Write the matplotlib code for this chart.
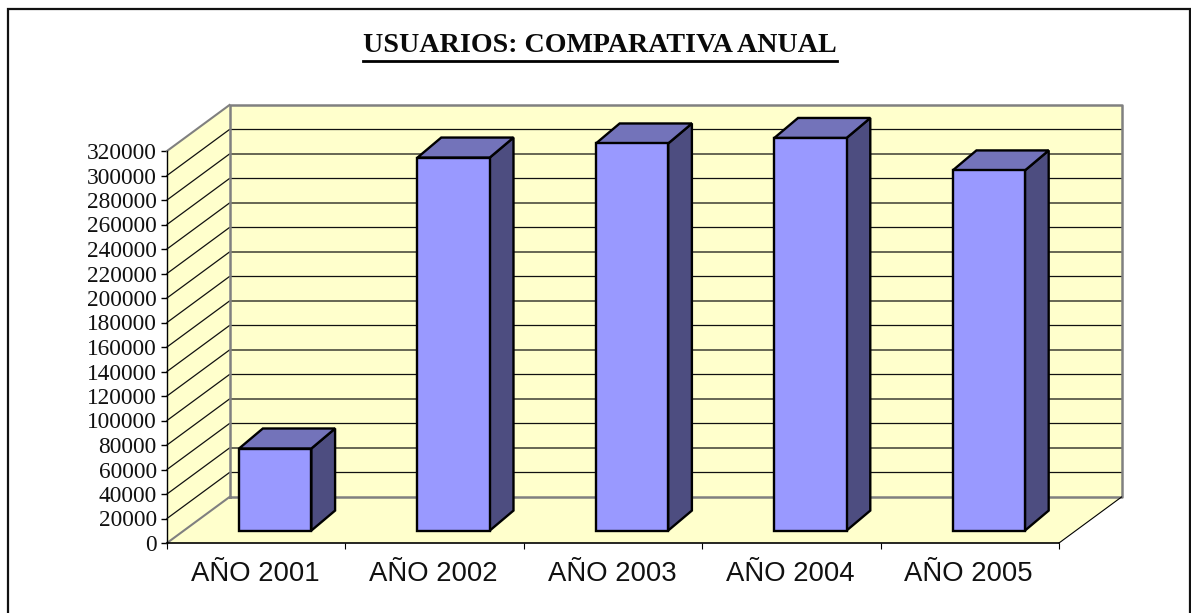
import matplotlib
matplotlib.use("Agg")
import matplotlib.pyplot as plt
from matplotlib.patches import Polygon, Rectangle
from matplotlib.lines import Line2D

years = ["AÑO 2001", "AÑO 2002", "AÑO 2003", "AÑO 2004", "AÑO 2005"]
usuarios = [67000, 304500, 316000, 320500, 294000]
y_ticks = list(range(0, 320001, 20000))
title = "USUARIOS: COMPARATIVA ANUAL"

W, H = 1191, 613
Y_MAX = 320000
WALL = "#FFFFCC"
GREY = "#808080"
FRONT = "#9999FF"
TOP = "#7373BA"
SIDE = "#4D4D80"

fig = plt.figure(figsize=(W / 100, H / 100), dpi=100)

# frame around the whole chart, bottom edge is cut off by the image
fig.add_artist(Rectangle((7.5 / W, -0.02), (1190 - 7.5) / W, 1.02 - 9 / H, transform=fig.transFigure,
                         fill=False, edgecolor="#111111", linewidth=1.6))

# axes = front plane of the 3d box
ax = fig.add_axes([167 / W, 1 - 543 / H, (1059 - 167) / W, (543 - 151) / H])
ax.set_xlim(0, len(years))
ax.set_ylim(0, Y_MAX)
ax.patch.set_visible(False)
for s in ax.spines.values():
    s.set_visible(False)

# depth offset in data units
dep_x = 62.5 / 892 * len(years)
dep_y = 46 / 392 * Y_MAX


def poly(pts, **kw):
    ax.add_patch(Polygon(pts, closed=True, clip_on=False, **kw))


def line(xs, ys, **kw):
    ax.add_line(Line2D(xs, ys, clip_on=False, **kw))


n = len(years)
# walls
poly([(dep_x, dep_y), (n + dep_x, dep_y), (n + dep_x, Y_MAX + dep_y), (dep_x, Y_MAX + dep_y)],
     facecolor=WALL, edgecolor="none", zorder=1)
poly([(0, 0), (dep_x, dep_y), (dep_x, Y_MAX + dep_y), (0, Y_MAX)], facecolor=WALL, edgecolor="none", zorder=1)
poly([(0, 0), (n, 0), (n + dep_x, dep_y), (dep_x, dep_y)], facecolor=WALL, edgecolor="none", zorder=1)

# gridlines
for v in y_ticks[1:-1]:
    line([0, dep_x, n + dep_x], [v, v + dep_y, v + dep_y], color="#111111", linewidth=0.9, zorder=2)

# wall borders
line([dep_x, n + dep_x, n + dep_x, dep_x, dep_x],
     [dep_y, dep_y, Y_MAX + dep_y, Y_MAX + dep_y, dep_y], color=GREY, linewidth=1.8, zorder=3)
line([0, dep_x], [Y_MAX, Y_MAX + dep_y], color=GREY, linewidth=1.5, zorder=3)
line([0, dep_x], [0, dep_y], color=GREY, linewidth=1.5, zorder=3)
line([n, n + dep_x], [0, dep_y], color="black", linewidth=0.8, zorder=3)

# axis lines and ticks
line([0, 0], [0, Y_MAX], color="black", linewidth=1.0, zorder=4)
line([0, n], [0, 0], color="black", linewidth=1.2, zorder=4)
ax.set_xticks(range(n + 1))
ax.set_xticklabels([])
ax.set_yticks(y_ticks)
ax.set_yticklabels([str(v) for v in y_ticks], fontfamily="Liberation Serif", fontsize=16.8, color="#111111")
ax.tick_params(axis="y", length=4.3, width=1.0, pad=3)
ax.tick_params(axis="x", length=4, width=0.8)
for i, name in enumerate(years):
    ax.annotate(name, (i + 0.5, 0), xytext=(-1, -31), textcoords="offset pixels", ha="center", va="center",
                fontfamily="Liberation Sans", fontsize=19.8, color="#111111", annotation_clip=False)

# bars, 3d boxes standing on the floor
bar_w = 0.405
d0 = 0.27
for i, val in enumerate(usuarios):
    x0 = i + 0.5 + 0.012 - bar_w / 2 + d0 * dep_x
    x1 = x0 + bar_w
    yb = d0 * dep_y
    yt = yb + val
    ox = 0.38 * dep_x
    oy = 0.435 * dep_y
    style = dict(edgecolor="black", linewidth=1.7, joinstyle="miter", zorder=5)
    poly([(x1, yb), (x1 + ox, yb + oy), (x1 + ox, yt + oy), (x1, yt)], facecolor=SIDE, **style)
    poly([(x0, yt), (x1, yt), (x1 + ox, yt + oy), (x0 + ox, yt + oy)], facecolor=TOP, **style)
    poly([(x0, yb), (x1, yb), (x1, yt), (x0, yt)], facecolor=FRONT, **style)

# title with underline
fig.text(600 / W, 1 - 45.5 / H, title, ha="center", va="center", fontfamily="Liberation Serif",
         fontweight="bold", fontsize=20.2, color="#0a0a0a")
fig.add_artist(Line2D([363 / W, 837 / W], [1 - 60.5 / H, 1 - 60.5 / H], transform=fig.transFigure,
                      color="black", linewidth=2.0))

fig.savefig("out.png", dpi=100)
